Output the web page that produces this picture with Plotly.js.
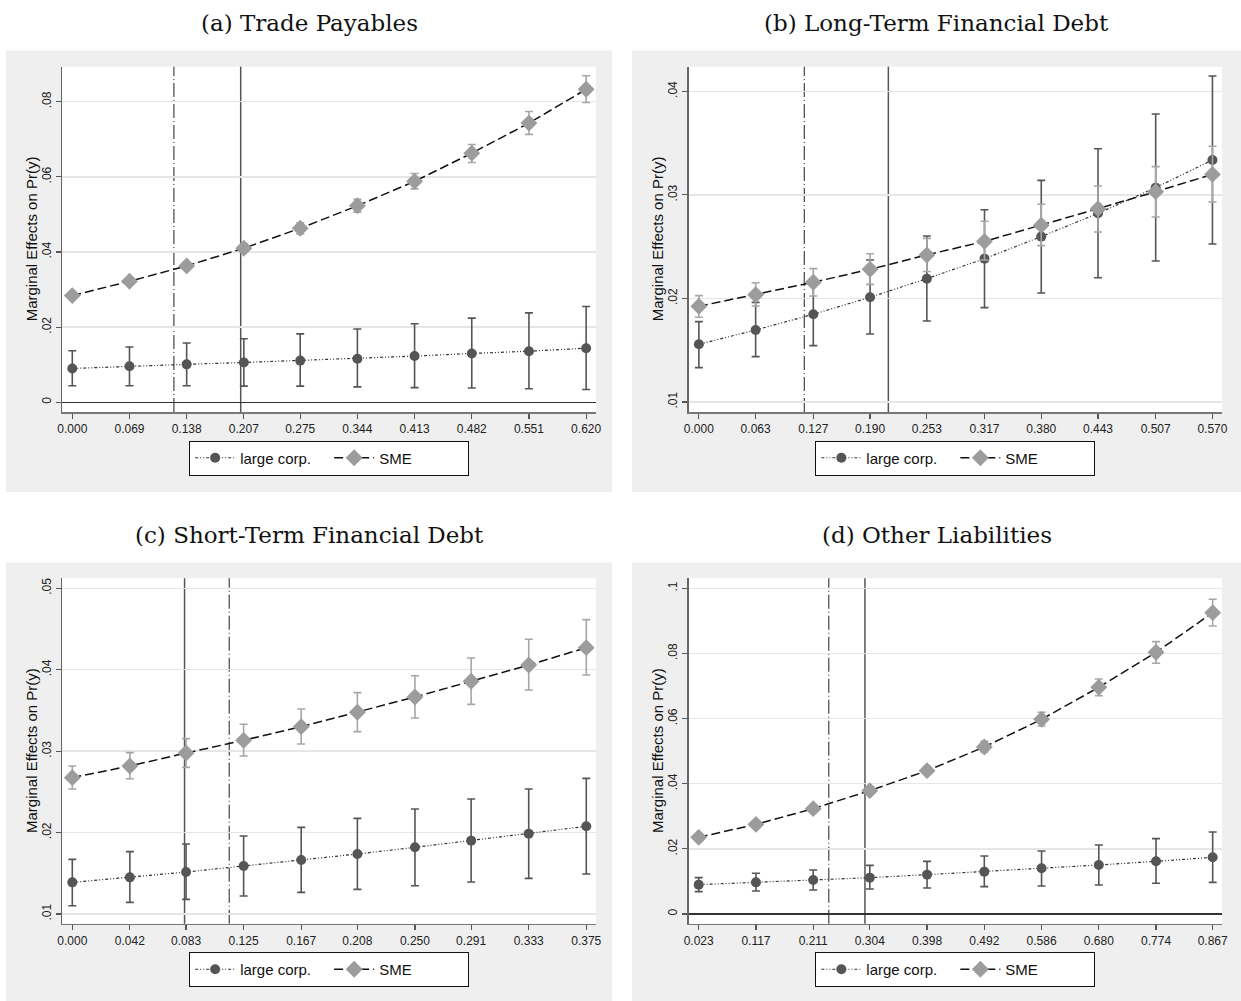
<!DOCTYPE html>
<html>
<head>
<meta charset="utf-8">
<script src="https://cdn.plot.ly/plotly-3.0.1.min.js"></script>
<style>
  html, body { margin: 0; padding: 0; background: #ffffff; }
  #chart { width: 1241px; height: 1001px; }
</style>
</head>
<body>
<div id="chart"></div>
<script>
// ---- Panel (a): Trade Payables ----
const xLabelsA = ["0.000","0.069","0.138","0.207","0.275","0.344","0.413","0.482","0.551","0.620"];
const largeA   = [0.0090,0.0096,0.0101,0.0106,0.0111,0.0116,0.0123,0.0130,0.0136,0.0144];
const largeAHi = [0.0137,0.0147,0.0158,0.0169,0.0182,0.0195,0.0209,0.0224,0.0238,0.0255];
const largeALo = [0.0044,0.0044,0.0044,0.0043,0.0043,0.0041,0.0039,0.0038,0.0036,0.0034];
const smeA     = [0.0284,0.0322,0.0363,0.0410,0.0463,0.0523,0.0588,0.0663,0.0743,0.0833];
const smeAHi   = [0.0289,0.0328,0.0370,0.0421,0.0478,0.0540,0.0609,0.0686,0.0774,0.0869];
const smeALo   = [0.0279,0.0316,0.0356,0.0401,0.0448,0.0506,0.0568,0.0638,0.0713,0.0798];
const refA     = { dashdot: 0.1226, solid: 0.2032 };

// ---- Panel (b): Long-Term Financial Debt ----
const xLabelsB = ["0.000","0.063","0.127","0.190","0.253","0.317","0.380","0.443","0.507","0.570"];
const largeB   = [0.01557,0.01695,0.01847,0.02011,0.02191,0.02384,0.02597,0.02822,0.03070,0.03337];
const largeBHi = [0.01776,0.01962,0.02149,0.02371,0.02603,0.02857,0.03140,0.03446,0.03781,0.04148];
const largeBLo = [0.01332,0.01438,0.01544,0.01657,0.01782,0.01911,0.02053,0.02200,0.02362,0.02526];
const smeB     = [0.01924,0.02036,0.02156,0.02281,0.02420,0.02551,0.02706,0.02867,0.03031,0.03198];
const smeBHi   = [0.02027,0.02152,0.02288,0.02432,0.02580,0.02745,0.02909,0.03086,0.03273,0.03469];
const smeBLo   = [0.01818,0.01927,0.02024,0.02136,0.02260,0.02371,0.02510,0.02642,0.02786,0.02931];
const refB     = { dashdot: 0.117, solid: 0.2103 };

// ---- Panel (c): Short-Term Financial Debt ----
const xLabelsC = ["0.000","0.042","0.083","0.125","0.167","0.208","0.250","0.291","0.333","0.375"];
const largeC   = [0.01389,0.01450,0.01516,0.01590,0.01663,0.01737,0.01819,0.01901,0.01987,0.02077];
const largeCHi = [0.01671,0.01766,0.01860,0.01958,0.02064,0.02175,0.02290,0.02412,0.02535,0.02666];
const largeCLo = [0.01102,0.01143,0.01180,0.01221,0.01266,0.01303,0.01348,0.01393,0.01438,0.01491];
const smeC     = [0.02675,0.02818,0.02977,0.03133,0.03301,0.03477,0.03665,0.03858,0.04058,0.04271];
const smeCHi   = [0.02818,0.02982,0.03154,0.03330,0.03518,0.03719,0.03927,0.04144,0.04374,0.04615];
const smeCLo   = [0.02535,0.02662,0.02801,0.02941,0.03088,0.03240,0.03407,0.03575,0.03751,0.03936];
const refC     = { dashdot: 0.1145, solid: 0.0819 };

// ---- Panel (d): Other Liabilities ----
const xLabelsD = ["0.023","0.117","0.211","0.304","0.398","0.492","0.586","0.680","0.774","0.867"];
const largeD   = [0.00901,0.00972,0.01044,0.01116,0.01208,0.01300,0.01402,0.01505,0.01617,0.01740];
const largeDHi = [0.01116,0.01249,0.01351,0.01494,0.01617,0.01781,0.01934,0.02119,0.02313,0.02518];
const largeDLo = [0.00686,0.00706,0.00737,0.00768,0.00798,0.00839,0.00860,0.00890,0.00942,0.00972];
const smeD     = [0.02354,0.02753,0.03234,0.03787,0.04401,0.05128,0.05977,0.06960,0.08035,0.09253];
const smeDHi   = [0.02380,0.02790,0.03280,0.03890,0.04524,0.05302,0.06192,0.07216,0.08362,0.09662];
const smeDLo   = [0.02330,0.02720,0.03190,0.03685,0.04289,0.04974,0.05773,0.06704,0.07697,0.08844];
const refD     = { dashdot: 0.2366, solid: 0.296 };

// ---- Axis ticks ----
const yTicksA = [0, 0.02, 0.04, 0.06, 0.08];
const yTextA  = ["0", ".02", ".04", ".06", ".08"];
const yTicksB = [0.01, 0.02, 0.03, 0.04];
const yTextB  = [".01", ".02", ".03", ".04"];
const yTicksC = [0.01, 0.02, 0.03, 0.04, 0.05];
const yTextC  = [".01", ".02", ".03", ".04", ".05"];
const yTicksD = [0, 0.02, 0.04, 0.06, 0.08, 0.1];
const yTextD  = ["0", ".02", ".04", ".06", ".08", ".1"];

const panelTitles = ["(a) Trade Payables", "(b) Long-Term Financial Debt",
                     "(c) Short-Term Financial Debt", "(d) Other Liabilities"];
const seriesNames = ["large corp.", "SME"];
const yTitle = "Marginal Effects on Pr(y)";

// ---- Page geometry (px) ----
const W = 1241, H = 1001;
const px = v => v / W;
const py = v => 1 - v / H;

const panels = [
  { xl: xLabelsA, large: largeA, lHi: largeAHi, lLo: largeALo, sme: smeA, sHi: smeAHi, sLo: smeALo,
    ref: refA, yt: yTicksA, ytt: yTextA, xr: [-0.01206, 0.6319], yr: [-0.00258, 0.08931],
    plot: [62.3, 596, 66.7, 412], box: [6, 612, 50.5, 492], titleY: 23, legY: 458, yTitleX: 31, zero: true },
  { xl: xLabelsB, large: largeB, lHi: largeBHi, lLo: largeBLo, sme: smeB, sHi: smeBHi, sLo: smeBLo,
    ref: refB, yt: yTicksB, ytt: yTextB, xr: [-0.0113, 0.5806], yr: [0.00903, 0.04238],
    plot: [688.7, 1222, 66.7, 412], box: [632, 1241, 50.5, 492], titleY: 23, legY: 458, yTitleX: 657, zero: false },
  { xl: xLabelsC, large: largeC, lHi: largeCHi, lLo: largeCLo, sme: smeC, sHi: smeCHi, sLo: smeCLo,
    ref: refC, yt: yTicksC, ytt: yTextC, xr: [-0.0073, 0.3821], yr: [0.00881, 0.05123],
    plot: [62.3, 596, 578.3, 923.7], box: [6, 612, 562.5, 1001], titleY: 535, legY: 969.5, yTitleX: 31, zero: false },
  { xl: xLabelsD, large: largeD, lHi: largeDHi, lLo: largeDLo, sme: smeD, sHi: smeDHi, sLo: smeDLo,
    ref: refD, yt: yTicksD, ytt: yTextD, xr: [0.00658, 0.8823], yr: [-0.00298, 0.10307],
    plot: [688.7, 1222, 578.3, 923.7], box: [632, 1241, 562.5, 1001], titleY: 535, legY: 969.5, yTitleX: 657, zero: true }
];

const data = [];
const shapes = [];
const annotations = [];
const layout = {
  width: W, height: H,
  margin: { l: 0, r: 0, t: 0, b: 0 },
  paper_bgcolor: "#ffffff",
  plot_bgcolor: "#ffffff",
  font: { family: "Arial, Liberation Sans, sans-serif", size: 12, color: "#222" },
  showlegend: true
};

// Grey outer frames, then white plot regions on top of them
panels.forEach(p => {
  shapes.push({ type: "rect", xref: "paper", yref: "paper", layer: "below",
    x0: px(p.box[0]), x1: px(p.box[1]), y0: py(p.box[3]), y1: py(p.box[2]),
    fillcolor: "#efefef", line: { width: 0 } });
});
panels.forEach(p => {
  shapes.push({ type: "rect", xref: "paper", yref: "paper", layer: "below",
    x0: px(p.plot[0]), x1: px(p.plot[1]), y0: py(p.plot[3]), y1: py(p.plot[2]),
    fillcolor: "#ffffff", line: { width: 0 } });
});

panels.forEach((p, i) => {
  const k = i === 0 ? "" : String(i + 1);
  const xa = "x" + k, ya = "y" + k;
  const legName = "legend" + k;
  const xs = p.xl.map(Number);

  data.push({
    type: "scatter", mode: "lines+markers", name: seriesNames[0],
    x: xs, y: p.large, xaxis: xa, yaxis: ya, legend: legName,
    line: { color: "#333333", width: 1.2, dash: "3px,2px,1px,2px,1px,2px" },
    marker: { symbol: "circle", size: 10, color: "#555555" },
    error_y: { type: "data", symmetric: false,
      array: p.lHi.map((v, j) => v - p.large[j]),
      arrayminus: p.large.map((v, j) => v - p.lLo[j]),
      color: "#555555", thickness: 1.6, width: 4 }
  });
  data.push({
    type: "scatter", mode: "lines+markers", name: seriesNames[1],
    x: xs, y: p.sme, xaxis: xa, yaxis: ya, legend: legName,
    line: { color: "#111111", width: 1.5, dash: "9px,4px" },
    marker: { symbol: "diamond", size: 13, color: "#9c9c9c" },
    error_y: { type: "data", symmetric: false,
      array: p.sHi.map((v, j) => v - p.sme[j]),
      arrayminus: p.sme.map((v, j) => v - p.sLo[j]),
      color: "#a6a6a6", thickness: 1.6, width: 4 }
  });

  layout["xaxis" + k] = {
    domain: [px(p.plot[0]), px(p.plot[1])], anchor: ya,
    range: p.xr, tickmode: "array", tickvals: xs, ticktext: p.xl,
    showgrid: false, zeroline: false,
    showline: true, linecolor: "#777777", linewidth: 1.5,
    ticks: "outside", ticklen: 5, tickwidth: 1.2, tickcolor: "#555555",
    tickfont: { size: 12, color: "#222" }, fixedrange: true
  };
  layout["yaxis" + k] = {
    domain: [py(p.plot[3]), py(p.plot[2])], anchor: xa,
    range: p.yr, tickmode: "array", tickvals: p.yt, ticktext: p.ytt,
    tickangle: -90,
    showgrid: true, gridcolor: "#e6e6e6", gridwidth: 1.5,
    zeroline: p.zero, zerolinecolor: "#333333", zerolinewidth: 1.2,
    showline: true, linecolor: "#666666", linewidth: 1.5,
    ticks: "outside", ticklen: 5, tickwidth: 1.2, tickcolor: "#555555",
    tickfont: { size: 12, color: "#222" },
    fixedrange: true
  };

  layout[legName] = {
    x: px((p.plot[0] + p.plot[1]) / 2), xanchor: "center",
    y: py(p.legY), yanchor: "middle",
    orientation: "h", bgcolor: "#ffffff",
    bordercolor: "#111111", borderwidth: 1,
    font: { size: 15, color: "#111" },
    entrywidth: 84, entrywidthmode: "pixels",
    itemwidth: 40, tracegroupgap: 0
  };

  // Panel heading above the grey frame
  annotations.push({
    xref: "paper", yref: "paper",
    x: px((p.box[0] + p.box[1]) / 2), y: py(p.titleY),
    xanchor: "center", yanchor: "middle", showarrow: false,
    text: panelTitles[i],
    font: { family: "DejaVu Serif, Liberation Serif, serif", size: 23, color: "#111" }
  });
  // Vertical y-axis caption
  annotations.push({
    xref: "paper", yref: "paper",
    x: px(p.yTitleX), y: py((p.plot[2] + p.plot[3]) / 2),
    xanchor: "center", yanchor: "middle", showarrow: false, textangle: -90,
    text: yTitle,
    font: { size: 15, color: "#111" }
  });

  // Reference lines: dash-dot and solid verticals
  shapes.push({ type: "line", xref: xa, yref: ya + " domain", layer: "below",
    x0: p.ref.dashdot, x1: p.ref.dashdot, y0: 0, y1: 1,
    line: { color: "#444444", width: 1.2, dash: "14px,3px,1px,3px" } });
  shapes.push({ type: "line", xref: xa, yref: ya + " domain", layer: "below",
    x0: p.ref.solid, x1: p.ref.solid, y0: 0, y1: 1,
    line: { color: "#555555", width: 1.5 } });
});

layout.shapes = shapes;
layout.annotations = annotations;

Plotly.newPlot("chart", data, layout, { staticPlot: true, displayModeBar: false });
</script>
</body>
</html>
